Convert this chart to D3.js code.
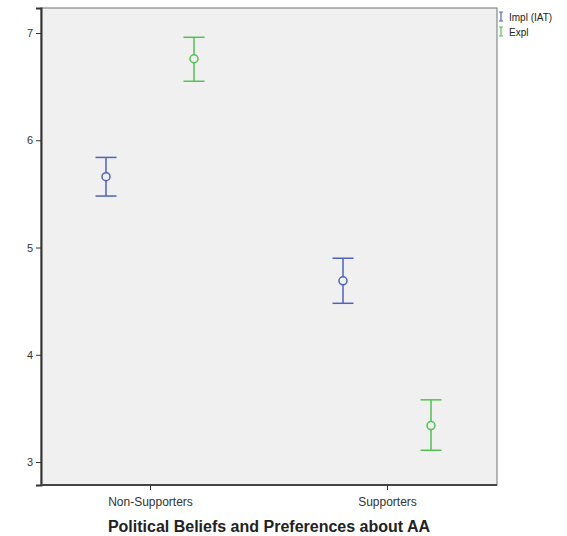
<!DOCTYPE html>
<html><head><meta charset="utf-8">
<script src="https://cdn.jsdelivr.net/npm/d3@7"></script>
<style>body{margin:0;background:#fff}svg{display:block}</style>
</head><body>
<svg id="c" width="567" height="536"></svg>
<script>
const categories = ["Non-Supporters", "Supporters"];
const seriesNames = ["Impl (IAT)", "Expl"];
const implMean = [5.66, 4.69];
const implLow = [5.48, 4.48];
const implHigh = [5.84, 4.90];
const explMean = [6.76, 3.34];
const explLow = [6.55, 3.11];
const explHigh = [6.96, 3.58];
const yTicks = [3, 4, 5, 6, 7];
const colors = ["#4f63b8", "#52c152"];

const svg = d3.select("#c");
const L = 41, T = 8, R = 497, B = 485;
const x = d3.scalePoint().domain(categories).range([150, 387]);
const offset = d3.scalePoint().domain(seriesNames).range([-44, 44]);
const y = d3.scaleLinear().domain([2.786, 7.233]).range([B, T]);

svg.append("rect").attr("x", L).attr("y", T).attr("width", R - L).attr("height", B - T)
  .attr("fill", "#f0f0f0").attr("stroke", "#888").attr("stroke-width", 1.2);

const yAxis = svg.append("g").attr("transform", `translate(${L},0)`)
  .call(d3.axisLeft(y).tickValues(yTicks).tickSize(5).tickFormat(d3.format("d")));
yAxis.select(".domain").attr("stroke", "#333").attr("stroke-width", 2);
yAxis.selectAll("text").attr("font-family", "Arial, Liberation Sans, sans-serif").attr("font-size", 11).attr("fill", "#333");
yAxis.selectAll(".tick line").attr("stroke", "#333");

const xAxis = svg.append("g").attr("transform", `translate(0,${B})`)
  .call(d3.axisBottom(x).tickSize(5).tickPadding(7));
xAxis.select(".domain").attr("d", `M${L},0H${R}`).attr("stroke", "#444").attr("stroke-width", 2);
xAxis.selectAll("text").attr("font-family", "Arial, Liberation Sans, sans-serif").attr("font-size", 12).attr("fill", "#333");
xAxis.selectAll(".tick line").attr("stroke", "#333");

const series = [
  {name: seriesNames[0], mean: implMean, lo: implLow, hi: implHigh, color: colors[0]},
  {name: seriesNames[1], mean: explMean, lo: explLow, hi: explHigh, color: colors[1]}
];
const cap = 10.5;
series.forEach(s => {
  const g = svg.append("g").attr("stroke", s.color).attr("stroke-width", 1.5).attr("fill", "none");
  categories.forEach((c, i) => {
    const cx = x(c) + offset(s.name);
    g.append("line").attr("x1", cx).attr("x2", cx).attr("y1", y(s.hi[i])).attr("y2", y(s.lo[i]));
    g.append("line").attr("x1", cx - cap).attr("x2", cx + cap).attr("y1", y(s.hi[i])).attr("y2", y(s.hi[i]));
    g.append("line").attr("x1", cx - cap).attr("x2", cx + cap).attr("y1", y(s.lo[i])).attr("y2", y(s.lo[i]));
    g.append("circle").attr("cx", cx).attr("cy", y(s.mean[i])).attr("r", 4).attr("fill", "#f0f0f0");
  });
});

// legend
series.forEach((s, i) => {
  const ly = 17 + i * 15;
  const g = svg.append("g");
  g.append("path").attr("d", `M${499},${ly - 5}h4M${501},${ly - 5}v9M${499},${ly + 4}h4`)
    .attr("stroke", s.color).attr("stroke-width", 1.2).attr("fill", "none");
  g.append("text").attr("x", 509).attr("y", ly + 3.5).text(s.name)
    .attr("font-family", "Arial, Liberation Sans, sans-serif").attr("font-size", 10).attr("fill", "#222");
});

svg.append("text").attr("x", 269).attr("y", 532).attr("text-anchor", "middle")
  .attr("font-family", "Arial, Liberation Sans, sans-serif").attr("font-size", 16).attr("font-weight", "bold")
  .attr("fill", "#222").text("Political Beliefs and Preferences about AA");
</script>
</body></html>
